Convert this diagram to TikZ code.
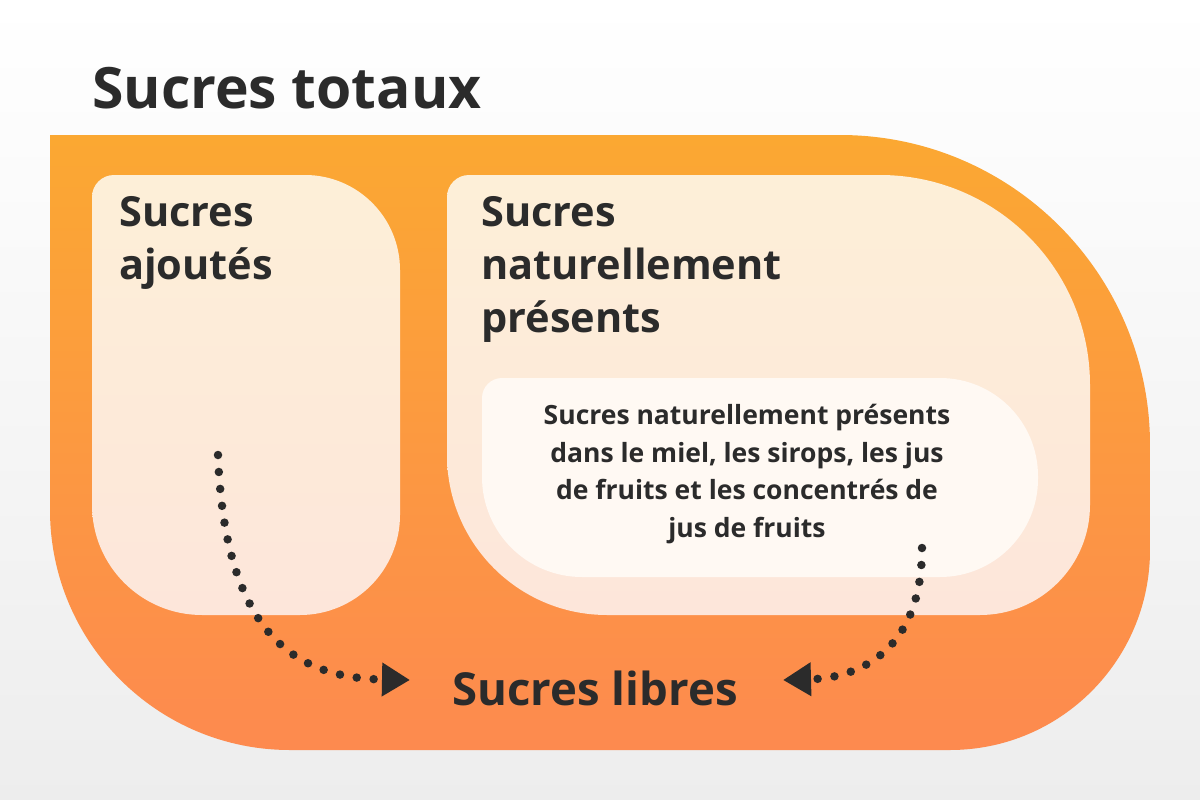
\documentclass[tikz,border=0pt]{standalone}
\usepackage{fontspec}
\setmainfont{Open Sans}
\usetikzlibrary{arrows.meta}
\definecolor{ink}{HTML}{2B2B2B}
\definecolor{otop}{HTML}{FBA832}
\definecolor{obot}{HTML}{FD8A4F}
\definecolor{ctop}{HTML}{FDEFD8}
\definecolor{cbot}{HTML}{FDE6DA}
\definecolor{wbox}{HTML}{FFF9F3}
\begin{document}
\begin{tikzpicture}[x=1pt,y=-1pt,
  lbl/.style={text=ink,font=\bfseries,inner sep=0pt,align=left},
  dotarrow/.style={ink,line width=8.5pt,line cap=round,dash pattern=on 0pt off 17pt,
    -{Triangle[length=28pt,width=32pt]}}]
\shade[top color=white,bottom color=black!7] (0,0) rectangle (1200,800);
\useasboundingbox (0,0) rectangle (1200,800);
% outer
\shade[top color=otop,bottom color=obot]
  (50,300) [rounded corners=0pt] -- (50,135) [rounded corners=310pt] -- (1150,135)
  [rounded corners=200pt] -- (1150,750) [rounded corners=240pt] -- (50,750) [rounded corners=0pt] -- cycle;
% left box
\shade[top color=ctop,bottom color=cbot]
  (92,400) [rounded corners=22pt] -- (92,175) [rounded corners=95pt] -- (400,175)
  [rounded corners=100pt] -- (400,615) [rounded corners=110pt] -- (92,615) [rounded corners=0pt] -- cycle;
% right box
\shade[top color=ctop,bottom color=cbot]
  (447,400) [rounded corners=22pt] -- (447,175) [rounded corners=210pt] -- (1090,175)
  [rounded corners=110pt] -- (1090,615) [rounded corners=160pt] -- (447,615) [rounded corners=0pt] -- cycle;
% white box
\fill[wbox]
  (482,470) [rounded corners=20pt] -- (482,378) [rounded corners=98pt] -- (1038,378)
  [rounded corners=98pt] -- (1038,577) [rounded corners=100pt] -- (482,577) [rounded corners=0pt] -- cycle;
\node[lbl,font=\fontsize{57}{64}\selectfont\bfseries,anchor=base west] (title) at (92,108) {Sucres totaux};
\node[lbl,font=\fontsize{41.5}{53}\selectfont\bfseries,anchor=north west] (added) at (119,196) {Sucres\\ajoutés};
\node[lbl,font=\fontsize{41.5}{53}\selectfont\bfseries,anchor=north west] (natural) at (481,196) {Sucres\\naturellement\\présents};
\node[lbl,align=center,font=\fontsize{26.5}{37.5}\selectfont\bfseries] (honey) at (747,474)
  {Sucres naturellement présents\\dans le miel, les sirops, les jus\\de fruits et les concentrés de\\jus de fruits};
\node[lbl,font=\fontsize{45.5}{52}\selectfont\bfseries,anchor=base] (free) at (595,705) {Sucres libres};
\coordinate (s1) at (218,455);
\coordinate (s2) at (922,548);
\coordinate (t1) at (410,680);
\coordinate (t2) at (783,680);
\draw[dotarrow] (s1) .. controls (225,640) and (300,678) .. (t1);
\draw[dotarrow] (s2) .. controls (922,650) and (860,678) .. (t2);
\end{tikzpicture}
\end{document}
